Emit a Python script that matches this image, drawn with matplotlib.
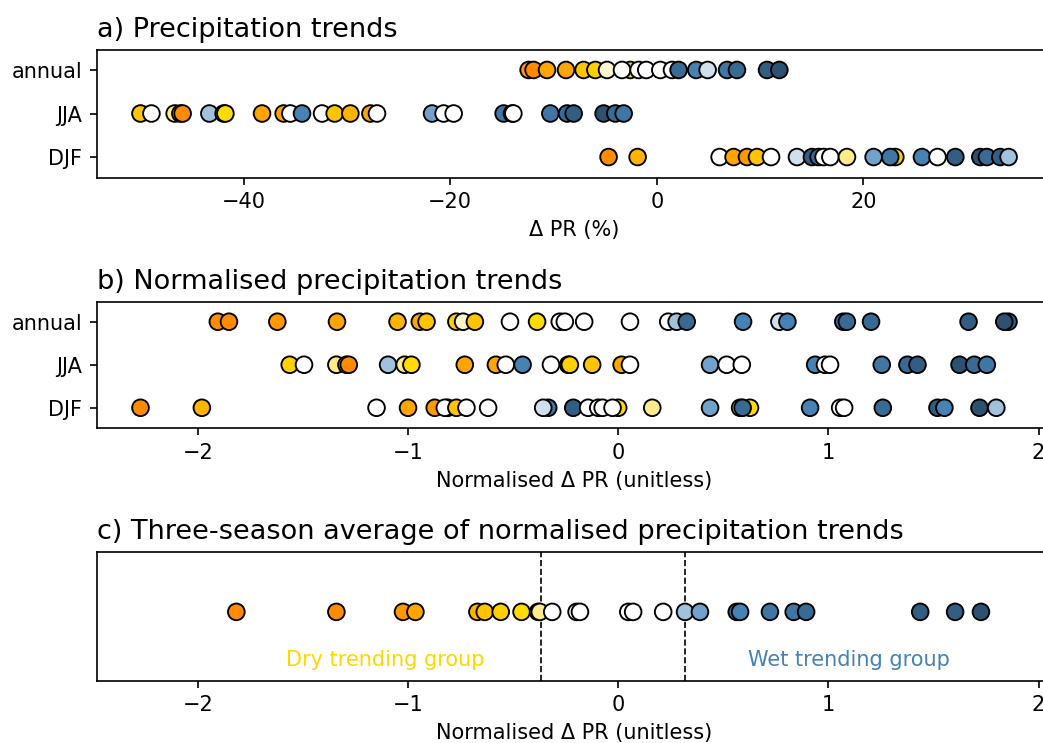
#!/usr/bin/env python3
"""
Precipitation trends per model: raw, normalised and three-season average
"""

import matplotlib
matplotlib.use("Agg")
import matplotlib.pyplot as plt

# === DATOS ===
seasons = ['annual', 'JJA', 'DJF']

# a) Delta PR (%) ; group code of each model (dry rank D1..D9, neutral N, wet rank W1..W8)
a_annual_val = [-12.41, -11.93, -10.63, -8.79, -7.09, -5.95, -4.82, -2.57, -3.37, -1.76, -1.02, 0.34,
                1.47, 2.11, 3.82, 4.92, 6.80, 7.76, 10.67, 11.86]
a_annual_grp = ['D2', 'D1', 'D3', 'D3', 'D5', 'D6', 'D9', 'D7', 'N', 'N', 'N', 'N',
                'N', 'W6', 'W4', 'W1', 'W5', 'W6', 'W7', 'W8']

a_jja_val = [-49.99, -48.93, -46.68, -46.13, -45.91, -43.32, -41.94, -41.77, -38.22, -36.13, -35.48,
             -34.35, -32.41, -31.19, -29.67, -27.73, -27.09, -21.76, -20.64, -19.67, -14.83, -14.02,
             -13.89, -10.31, -8.69, -8.05, -5.15, -4.02, -3.21]
a_jja_grp = ['D5', 'N', 'D8', 'D2', 'D1', 'W2', 'D6', 'D7', 'D3', 'D3', 'N',
             'W4', 'N', 'D5', 'D4', 'D3', 'N', 'W3', 'N', 'N', 'W5', 'N',
             'N', 'W5', 'W6', 'W7', 'W8', 'W6', 'W5']

a_djf_val = [-4.67, -1.86, 6.08, 7.43, 8.73, 9.70, 11.06, 13.57, 15.02, 15.66, 16.15, 16.80, 18.41,
             23.09, 20.99, 22.60, 25.67, 27.18, 28.90, 31.32, 31.96, 33.25, 34.06]
a_djf_grp = ['D1', 'D4', 'N', 'D3', 'D2', 'D5', 'N', 'W1', 'W7', 'W6', 'N', 'N', 'D8',
             'D6', 'W3', 'W5', 'W4', 'N', 'W7', 'W8', 'W6', 'W7', 'W2']

# b) Normalised Delta PR (unitless)
b_annual_val = [-1.905, -1.852, -1.622, -1.338, -1.050, -0.944, -0.912, -0.770, -0.738, -0.682,
                -0.515, -0.386, -0.278, -0.254, -0.162, 0.056, 0.238, 0.278, 0.326, 0.594, 0.767,
                0.805, 1.071, 1.088, 1.203, 1.667, 1.857, 1.837]
b_annual_grp = ['D1', 'D1', 'D2', 'D3', 'D4', 'D3', 'D5', 'D6', 'D9', 'D5',
                'N', 'D7', 'N', 'N', 'N', 'N', 'N', 'W2', 'W6', 'W4', 'W1',
                'W4', 'W5', 'W6', 'W6', 'W7', 'W7', 'W8']

b_jja_val = [-1.563, -1.495, -1.341, -1.293, -1.282, -1.095, -1.016, -0.984, -0.730, -0.582,
             -0.535, -0.455, -0.320, -0.238, -0.230, -0.124, 0.016, 0.056, 0.437, 0.516, 0.588,
             0.937, 0.984, 1.008, 1.254, 1.376, 1.424, 1.624, 1.694, 1.754]
b_jja_grp = ['D6', 'N', 'D8', 'D2', 'D1', 'W2', 'D8', 'D7', 'D3', 'D3',
             'N', 'W4', 'N', 'W8', 'D6', 'D5', 'D3', 'N', 'W3', 'N', 'N',
             'W4', 'N', 'N', 'W5', 'W6', 'W7', 'W8', 'W6', 'W5']

b_djf_val = [-2.273, -1.981, -1.150, -1.000, -0.811, -0.873, -0.825, -0.770, -0.722, -0.619,
             -0.333, -0.357, -0.214, -0.143, -0.095, -0.074, 0.000, -0.027, 0.162, 0.437,
             0.627, 0.580, 0.592, 0.913, 1.056, 1.075, 1.259, 1.519, 1.552, 1.719, 1.799]
b_djf_grp = ['D1', 'D4', 'N', 'D3', 'D6', 'D2', 'N', 'D5', 'N', 'N',
             'W5', 'W1', 'W7', 'N', 'N', 'N', 'D7', 'N', 'D8', 'W3',
             'D7', 'D6', 'W6', 'W4', 'N', 'N', 'W6', 'W7', 'W4', 'W8', 'W2']

# c) Three-season average of normalised trends
c_val = [-1.817, -1.341, -1.024, -0.965, -0.670, -0.635, -0.559, -0.460, -0.381, -0.373,
         -0.314, -0.198, -0.182, 0.048, 0.071, 0.214, 0.318, 0.389, 0.564, 0.580, 0.722,
         0.835, 0.894, 1.437, 1.603, 1.726]
c_grp = ['D1', 'D1', 'D2', 'D3', 'D4', 'D5', 'D6', 'D7', 'D5', 'D8',
         'N', 'N', 'N', 'N', 'N', 'N', 'W2', 'W3', 'W6', 'W4', 'W5',
         'W5', 'W6', 'W7', 'W7', 'W8']

# Group limits (tercile boundaries)
dry_limit = -0.367
wet_limit = 0.319

# Colores por grupo
palette = {
    'D1': '#ff8c00', 'D2': '#ff9900', 'D3': '#ffa500', 'D4': '#ffb400', 'D5': '#ffc400',
    'D6': '#ffd000', 'D7': '#ffdb00', 'D8': '#ffeb8a', 'D9': '#fff6cc',
    'N': '#ffffff',
    'W1': '#cfdfee', 'W2': '#a1c2dd', 'W3': '#72a2cc', 'W4': '#4682b4',
    'W5': '#3f76a4', 'W6': '#396a94', 'W7': '#335e83', 'W8': '#2d5170',
}


def dots(ax, xs, groups, y):
    """Dibujar una fila de puntos"""
    cols = [palette[g] for g in groups]
    ax.scatter(xs, [y] * len(xs), s=64, c=cols, edgecolors='black', linewidths=0.9, zorder=3)


def season_panel(ax, rows, title, xlabel, xlim):
    # rows: annual, JJA, DJF -> y = 2, 1, 0
    for y, (xs, gs) in zip([2, 1, 0], rows):
        dots(ax, xs, gs, y)
    ax.set_yticks([2, 1, 0])
    ax.set_yticklabels(seasons)
    ax.set_ylim(-0.47, 2.47)
    ax.set_xlim(*xlim)
    ax.set_title(title, loc='left', fontsize=13)
    ax.set_xlabel(xlabel, fontsize=10)


def main():
    W, H = 1043, 743
    dpi = 150
    fig = plt.figure(figsize=(W / dpi, H / dpi), dpi=dpi)

    left = 97 / W
    width = 955 / W
    ax_a = fig.add_axes([left, (H - 177.5) / H, width, 128 / H])
    ax_b = fig.add_axes([left, (H - 428) / H, width, 126.5 / H])
    ax_c = fig.add_axes([left, (H - 680.5) / H, width, 129 / H])

    season_panel(ax_a, [(a_annual_val, a_annual_grp), (a_jja_val, a_jja_grp), (a_djf_val, a_djf_grp)],
                 'a) Precipitation trends', '\u0394 PR (%)', (-54.2, 38.26))
    season_panel(ax_b, [(b_annual_val, b_annual_grp), (b_jja_val, b_jja_grp), (b_djf_val, b_djf_grp)],
                 'b) Normalised precipitation trends', 'Normalised \u0394 PR (unitless)', (-2.48, 2.064))

    # Panel c
    dots(ax_c, c_val, c_grp, 0)
    ax_c.set_ylim(-1, 0.88)
    ax_c.set_yticks([])
    ax_c.set_xlim(-2.48, 2.064)
    ax_c.axvline(dry_limit, color='black', linestyle='--', linewidth=0.8, zorder=1)
    ax_c.axvline(wet_limit, color='black', linestyle='--', linewidth=0.8, zorder=1)
    ax_c.text(-1.11, 0.16, 'Dry trending group', color='gold', fontsize=10,
              ha='center', va='center', transform=ax_c.get_xaxis_transform())
    ax_c.text(1.10, 0.16, 'Wet trending group', color='steelblue', fontsize=10,
              ha='center', va='center', transform=ax_c.get_xaxis_transform())
    ax_c.set_title('c) Three-season average of normalised precipitation trends', loc='left',
                   fontsize=13)
    ax_c.set_xlabel('Normalised \u0394 PR (unitless)', fontsize=10)

    for ax in (ax_a, ax_b, ax_c):
        ax.tick_params(labelsize=10)

    fig.savefig('out.png', dpi=dpi)


if __name__ == "__main__":
    main()
